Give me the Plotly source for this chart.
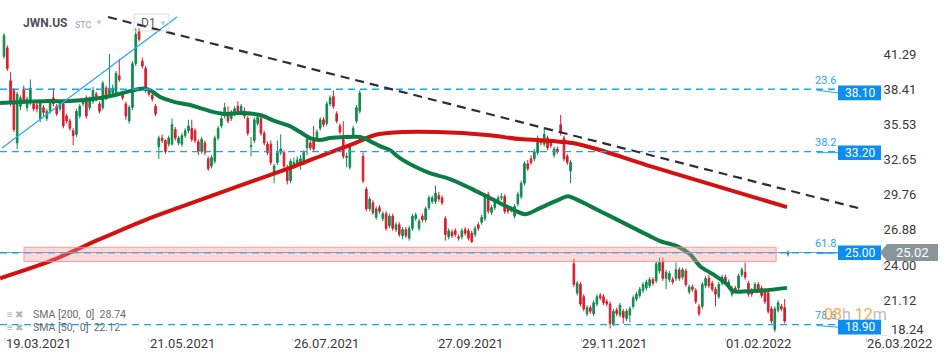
import plotly.graph_objects as go

# ---------------- data ----------------
open_ = [41.1,41.8,39.1,38.3,34.0,37.0,38.4,36.9,37.3,37.2, 37.1,36.0,36.9,36.0,36.6,37.7,37.0,36.8,37.2,36.2,
         35.8,35.0,34.7,36.2,37.2,37.7,36.9,37.4,38.0,37.2, 36.9,38.5,38.0,38.1,38.1,39.5,38.0,37.2,35.8,36.9,
         40.5,43.2,40.7,40.1,38.3,37.9,37.0,
         33.7,34.4,34.2,33.9,33.9,35.1,34.0,33.9,34.6,35.0,35.2,35.0,34.1,
         33.3,34.0,32.7,32.1,32.5,34.4,35.4,36.2,36.4,36.0, 36.4,37.0,36.5,36.6,36.0,33.7,34.2,35.6,36.0,34.8,
         33.9,33.9,31.4,32.4,33.2,33.2,32.0,30.9,32.1,32.3, 32.2,32.4,33.6,34.0,34.3,34.3,35.2,35.9,35.6,37.2,
         37.8,36.4,35.4,34.3,32.8,32.0,34.6,35.8,36.6,32.9, 30.2,28.6,29.1,27.9,28.7,27.8,28.2,27.2,28.0,
         26.9,27.3,26.4,26.9,26.2,27.0,27.8,27.0,28.0,27.7, 28.7,29.2,29.2,29.7,29.5,27.8,26.3,26.7,26.8,26.3,
         26.3,26.9,26.8,26.6,26.5,27.3,27.5,27.8,29.8,28.3, 28.7,29.2,29.5,29.6,28.7,28.6,28.0,29.0,29.6,30.7,
         32.3,32.7,32.7,33.2,34.2,33.9,34.4,34.1,33.0,33.5, 35.5,34.4,32.9,31.7,
         24.1,21.7,22.4,21.4,20.0,20.5,20.0,20.8,21.5,21.4, 21.0,20.8,19.2,20.3,19.9,20.2,19.6,19.9,20.6,21.2,
         21.5,21.9,22.1,22.3,22.8,22.7,23.5,24.2,22.9,22.8, 22.8,22.9,23.6,23.0,23.5,21.8,22.2,21.9,20.6,20.6,
         22.3,22.9,22.5,22.0,21.4,22.5,23.0,22.3,21.6,22.1, 22.1,23.2,23.4,22.5,21.9,21.9,22.4,22.1,21.9,21.7,
         20.4,18.7,20.3,20.6,20.5,24.9]
high_ = [43.0,42.0,39.8,38.5,38.2,37.9,38.7,37.8,39.2,37.5, 37.3,37.5,37.1,36.8,37.6,38.5,37.2,37.5,37.4,36.4,
         36.0,35.2,36.8,37.2,37.6,37.9,37.8,38.6,38.2,37.4, 39.1,38.7,41.3,38.8,39.9,40.9,38.2,37.4,37.1,40.7,
         43.4,43.4,41.0,40.3,38.5,38.1,37.2,
         34.6,34.7,34.3,34.6,36.0,35.3,34.6,34.8,35.2,35.9,35.9,35.2,34.3,
         34.5,34.2,32.9,33.0,34.6,35.4,36.2,37.3,37.0,36.7, 37.0,37.4,37.2,36.9,36.2,34.5,36.1,36.3,36.2,35.0,
         34.1,34.2,32.3,34.2,34.7,33.4,32.2,32.7,32.8,32.9, 33.0,33.4,34.5,34.2,35.4,35.1,36.1,36.1,37.4,37.9,
         38.3,36.6,35.6,35.8,33.2,33.9,35.4,37.1,38.3,33.2, 30.4,29.6,29.3,28.8,28.9,28.4,28.4,28.2,28.2,
         27.5,27.5,27.1,27.1,27.2,28.2,28.3,27.8,28.2,28.8, 29.7,29.7,30.5,30.0,29.7,28.0,27.0,26.9,27.0,26.5,
         27.0,27.1,27.0,26.8,27.2,27.5,28.1,29.9,30.0,28.9, 29.5,29.7,29.9,29.8,28.9,28.8,29.0,30.0,30.9,32.5,
         32.6,33.0,33.5,34.6,34.4,35.3,34.6,34.3,33.7,33.7, 36.3,34.6,33.1,32.6,
         24.5,22.7,22.6,21.6,20.7,20.7,21.1,21.6,21.7,21.6, 21.2,21.0,20.4,20.5,20.9,20.4,20.4,20.6,21.5,21.8,
         22.2,22.6,22.8,23.0,23.0,24.3,24.6,24.6,23.6,23.5, 23.0,24.2,23.8,23.8,23.7,22.4,22.4,22.1,20.8,22.6,
         23.1,23.2,22.7,22.2,22.6,23.2,23.2,22.8,22.3,22.3, 23.3,23.8,24.2,22.7,22.1,22.6,22.6,22.3,22.1,21.9,
         20.6,20.6,21.1,20.8,21.2,25.2]
low_ = [40.9,39.9,37.0,34.9,33.5,36.7,37.2,36.6,37.1,36.6, 36.5,35.7,36.2,35.8,36.4,37.0,36.2,36.6,35.2,35.6,
        35.0,33.8,34.5,36.0,37.0,36.0,36.7,37.2,37.4,36.4, 36.7,37.5,37.8,37.9,37.9,39.0,37.5,35.9,35.6,36.7,
        40.3,42.3,40.1,38.1,37.8,37.4,36.2,
        32.7,34.0,33.1,33.7,33.8,34.2,33.8,33.7,34.4,34.8,34.1,34.0,33.0,
        33.1,33.0,31.7,31.9,32.3,34.2,35.2,36.0,35.6,35.8, 36.2,36.4,36.3,36.0,34.6,32.9,34.0,35.4,34.6,33.8,
        33.0,32.2,30.7,32.2,33.0,31.9,30.6,30.7,31.9,32.0, 31.8,32.2,33.0,33.4,33.3,34.1,35.0,35.3,35.4,37.0,
        36.8,35.6,34.7,32.7,32.0,31.8,34.4,35.6,36.4,30.7, 28.4,28.4,28.1,27.7,28.2,27.6,26.8,27.0,26.8,
        26.7,26.3,26.1,26.2,26.0,26.8,27.6,26.8,27.5,27.5, 28.5,29.0,29.0,29.2,28.9,26.0,26.1,26.2,26.3,26.0,
        26.1,26.4,26.0,25.8,26.3,26.8,27.3,27.6,28.2,28.1, 28.5,29.0,29.3,28.2,28.2,28.3,27.8,28.8,29.4,30.5,
        31.7,32.2,32.5,33.0,33.8,33.7,33.4,33.6,32.8,33.1, 34.6,32.5,32.2,30.7,
        22.2,21.5,20.6,20.2,19.8,20.0,19.8,20.6,21.1,20.7, 20.6,18.8,19.0,19.8,19.7,19.2,19.4,19.3,20.4,21.0,
        21.3,21.7,21.9,22.1,22.3,22.5,23.3,22.7,22.0,22.6, 22.4,22.7,22.7,22.8,22.2,21.6,21.8,20.8,19.8,20.4,
        22.1,22.1,21.8,20.6,21.2,22.3,22.4,22.1,21.4,21.7, 21.9,23.0,22.8,21.4,21.4,21.7,21.7,21.3,20.8,20.0,
        19.2,18.5,20.1,20.2,19.2,24.7]
close_ = [42.8,40.1,37.3,35.1,38.0,37.7,37.4,37.6,38.5,36.8, 36.8,37.3,36.5,36.6,37.4,37.2,36.4,37.3,35.4,35.8,
          35.2,34.6,36.6,37.0,37.4,36.2,37.6,38.3,37.6,36.6, 38.9,37.7,38.5,38.5,39.7,39.2,37.7,36.2,36.9,40.5,
          42.9,42.5,40.3,38.3,38.0,37.6,36.4,
          34.4,34.2,33.3,34.4,35.5,34.4,34.4,34.6,35.0,35.4,34.3,34.2,33.3,
          34.3,33.2,31.9,32.8,34.4,35.2,36.0,36.9,35.8,36.5, 36.8,36.6,37.0,36.2,34.8,33.8,35.9,36.1,34.8,34.0,
          33.2,32.4,32.1,33.2,33.5,32.1,30.9,32.5,32.4,32.6, 32.7,33.2,34.3,33.6,33.5,34.9,35.9,35.5,37.2,37.7,
          37.0,35.8,34.9,32.9,32.9,33.7,35.2,36.9,38.1,30.9, 28.6,29.4,28.3,28.6,28.4,28.2,27.0,28.0,27.0,
          27.3,26.5,26.9,26.4,27.0,28.0,28.1,27.6,27.7,28.6, 29.5,29.5,29.9,29.4,29.1,26.5,26.8,26.4,26.5,26.2,
          26.8,26.6,26.2,25.9,27.0,27.0,27.9,29.7,28.4,28.7, 29.3,29.5,29.6,28.4,28.4,28.5,28.8,29.8,30.7,32.3,
          31.9,32.4,33.3,34.4,34.0,34.7,33.6,33.8,33.5,33.3, 34.8,32.7,32.4,32.4,
          22.4,22.5,20.8,20.4,20.5,20.2,20.9,21.4,21.3,20.9, 20.8,19.2,20.2,20.0,20.7,19.7,20.2,20.4,21.3,21.6,
          22.0,22.4,22.6,22.8,22.5,24.1,24.2,22.9,23.4,23.3, 22.6,23.6,22.9,23.6,22.4,22.2,22.0,21.0,20.0,22.4,
          22.9,22.3,22.0,21.6,22.4,23.0,22.6,22.6,22.1,21.9, 23.1,23.6,23.0,21.6,21.6,22.4,21.9,21.5,21.0,20.2,
          19.4,20.4,20.9,20.4,19.4,25.02]

# moving averages (bar index, value)
sma50_bar = [-1.2,14.0,20.0,29.1,33.7,38.3,42.2,44.3,47.4,51.9,56.5,59.5,62.5,67.1,71.6,77.7,82.3,86.8,89.9,92.9,
             95.9,99.0,103.5,108.1,111.1,114.1,117.2,120.2,126.3,129.3,135.4,141.5,147.5,153.6,158.2,162.7,168.8,
             171.2,174.9,177.9,184.0,190.0,196.1,199.2,204.3,208.3,211.3,215.2,219.5,221.3,225.6,231.6,237.7]
sma50_val = [37.27,37.43,37.43,37.68,37.93,38.25,38.46,38.34,37.76,37.35,37.11,36.86,36.61,36.37,36.45,36.29,35.79,
             35.38,34.89,34.40,34.24,34.40,34.48,34.48,34.15,33.74,33.41,32.76,31.86,31.53,31.04,30.30,29.48,28.66,
             28.16,28.66,29.40,29.64,29.23,28.82,28.00,27.18,26.36,25.95,25.54,24.88,23.90,23.24,22.42,21.85,21.85,
             21.93,22.12]
sma200_bar = [-1.2,14.0,29.1,44.3,54.3,69.5,79.8,88.3,98.4,106.6,112.6,121.1,131.5,146.6,156.6,166.7,172.7,180.9,
              196.1,211.3,226.5,237.7]
sma200_val = [22.91,24.31,26.11,27.84,28.82,30.30,31.28,32.10,33.17,33.99,34.65,34.89,34.89,34.65,34.32,34.15,33.99,
              33.42,32.10,30.87,29.64,28.74]

tick_labels = ["19.03.2021", "21.05.2021", "26.07.2021", "27.09.2021", "29.11.2021", "01.02.2022", "26.03.2022"]
tick_bars = [0.3, 43.9, 87.7, 131.5, 175.2, 218.9, 261.7]
y_ticks = [18.24, 21.12, 24.00, 26.88, 29.76, 32.65, 35.53, 38.41, 41.29]

fib_ratios = ["23.6", "38.2", "61.8", "78.6"]
fib_prices = [38.40, 33.28, 25.00, 19.11]
tag_prices = [38.10, 33.20, 25.00, 18.90]
last_price = 25.02
sma_legend = ["SMA [200,  0]  28.74", "SMA [50,  0]  22.12"]

# drawn objects (bar index, price)
up_trend = [(-0.6, 33.59), (52.5, 44.32)]
down_trend = [(31.6, 44.32), (260.5, 28.58)]
zone = dict(b0=6.07, b1=234.4, p0=24.28, p1=25.45)

# ---------------- figure ----------------
GREEN = "#12894f"
RED = "#d81e2c"
PW, PH = 880.0, 337.0  # plot area in px
BAR_PX, BAR0_PX = 3.294, 4.0


def px(x):
    return x / PW


def py(y):
    return 1 - y / PH


n = min(len(open_), len(high_), len(low_), len(close_))
bars = list(range(n))

fig = go.Figure()
fig.add_trace(go.Candlestick(
    x=bars, open=open_[:n], high=high_[:n], low=low_[:n], close=close_[:n],
    increasing=dict(line=dict(color=GREEN, width=1), fillcolor=GREEN),
    decreasing=dict(line=dict(color=RED, width=1), fillcolor=RED),
    whiskerwidth=0, hoverinfo="skip", showlegend=False))
fig.add_trace(go.Scatter(x=sma200_bar, y=sma200_val, mode="lines",
                         line=dict(color="#d41010", width=4, shape="spline", smoothing=0.8),
                         hoverinfo="skip", showlegend=False))
fig.add_trace(go.Scatter(x=sma50_bar, y=sma50_val, mode="lines",
                         line=dict(color="#0c7c47", width=4, shape="spline", smoothing=0.8),
                         hoverinfo="skip", showlegend=False))

shapes = []
# last price line
shapes.append(dict(type="line", xref="paper", yref="y", x0=0, x1=1, y0=last_price, y1=last_price,
                   line=dict(color="#8e979c", width=1), layer="above"))
# fibonacci levels
for fp, tp in zip(fib_prices, tag_prices):
    shapes.append(dict(type="line", xref="paper", yref="y", x0=0, x1=px(836), y0=fp, y1=fp,
                       line=dict(color="#1da3ec", width=1.3, dash="7px,5px"), layer="above"))
    shapes.append(dict(type="line", xref="paper", yref="y", x0=px(817), x1=px(838), y0=fp - 0.08, y1=tp,
                       line=dict(color="#1da3ec", width=1), layer="above"))
    shapes.append(dict(type="rect", xref="paper", yref="y", x0=px(838), x1=px(881), y0=tp - 0.6, y1=tp + 0.6,
                       fillcolor="#0b8df2", line=dict(width=0), layer="above"))
# zone
shapes.append(dict(type="rect", xref="x", yref="y", x0=zone["b0"], x1=zone["b1"], y0=zone["p0"], y1=zone["p1"],
                   fillcolor="rgba(245,150,150,0.35)", line=dict(color="rgba(236,140,140,0.8)", width=1),
                   layer="above"))
# trend lines
shapes.append(dict(type="line", xref="x", yref="y", x0=up_trend[0][0], y0=up_trend[0][1],
                   x1=up_trend[1][0], y1=up_trend[1][1], line=dict(color="#2aa8f2", width=1.3), layer="above"))
shapes.append(dict(type="line", xref="x", yref="y", x0=down_trend[0][0], y0=down_trend[0][1],
                   x1=down_trend[1][0], y1=down_trend[1][1],
                   line=dict(color="#2b3034", width=2.2, dash="9px,6px"), layer="above"))
# current price tag (grey arrow)
h = 0.7
shapes.append(dict(type="path", xref="paper", yref="y",
                   path=f"M {px(880)},{last_price} L {px(887)},{last_price + h} L {px(938)},{last_price + h} "
                        f"L {px(938)},{last_price - h} L {px(887)},{last_price - h} Z",
                   fillcolor="#8a959a", line=dict(width=0), layer="above"))
# D1 box
shapes.append(dict(type="rect", xref="paper", yref="paper", x0=px(134), x1=px(169), y0=py(31), y1=py(14),
                   line=dict(color="#d9dde0", width=1), fillcolor="rgba(255,255,255,0)", layer="above"))

ann = []
for r, fp, tp in zip(fib_ratios, fib_prices, tag_prices):
    ann.append(dict(x=px(825), y=fp, xref="paper", yref="y", text=r, showarrow=False, yshift=9,
                    font=dict(size=11, color="#2aa5ea"), xanchor="center", yanchor="middle"))
    ann.append(dict(x=px(859.5), y=tp, xref="paper", yref="y", text=f"{tp:.2f}", showarrow=False,
                    font=dict(size=12, color="white"), xanchor="center", yanchor="middle"))
ann.append(dict(x=px(912), y=last_price, xref="paper", yref="y", text=f"{last_price:.2f}", showarrow=False,
                font=dict(size=13, color="white"), xanchor="center", yanchor="middle"))
ann.append(dict(x=px(21), y=py(23), xref="paper", yref="paper", text="<b>JWN.US</b>", showarrow=False,
                font=dict(size=12, color="#4c5358"), xanchor="left", yanchor="middle"))
ann.append(dict(x=px(73), y=py(24.5), xref="paper", yref="paper", text="STC", showarrow=False,
                font=dict(size=9, color="#9aa3a8"), xanchor="left", yanchor="middle"))
ann.append(dict(x=px(93), y=py(22), xref="paper", yref="paper", text="▼", showarrow=False,
                font=dict(size=8, color="#c3c8cb"), xanchor="left", yanchor="middle"))
ann.append(dict(x=px(139), y=py(23), xref="paper", yref="paper", text="D1", showarrow=False,
                font=dict(size=12, color="#555b60"), xanchor="left", yanchor="middle"))
ann.append(dict(x=px(157), y=py(23.5), xref="paper", yref="paper", text="▼", showarrow=False,
                font=dict(size=8, color="#c3c8cb"), xanchor="left", yanchor="middle"))
for txt, yy in zip(sma_legend, [314, 327]):
    ann.append(dict(x=px(5), y=py(yy), xref="paper", yref="paper", text="≡ ✖", showarrow=False,
                    font=dict(size=10, color="#b0b5b8"), xanchor="left", yanchor="middle"))
    ann.append(dict(x=px(31), y=py(yy), xref="paper", yref="paper", text=txt, showarrow=False,
                    font=dict(size=10.5, color="#666c70"), xanchor="left", yanchor="middle"))
ann.append(dict(x=px(822), y=py(314), xref="paper", yref="paper",
                text='<span style="color:#f5a43a">08</span><span style="color:#b4b8bb">h</span> '
                     '<span style="color:#f5a43a">12</span><span style="color:#b4b8bb">m</span>',
                showarrow=False, font=dict(size=16), xanchor="left", yanchor="middle", opacity=0.9))
# x-axis date labels, left-aligned at their tick like the reference
for tb, tl in zip(tick_bars, tick_labels):
    ann.append(dict(x=tb, y=py(343), xref="x", yref="paper", text=tl, showarrow=False,
                    font=dict(size=13, color="#3a3a3a"), xanchor="left", yanchor="middle", xshift=-1))
# the lowest price label sits a little above its tick (kept clear of the date row), as in the reference
ann.append(dict(x=px(889), y=py(329), xref="paper", yref="paper", text=f"{y_ticks[0]:.2f}", showarrow=False,
                font=dict(size=13, color="#3a3a3a"), xanchor="left", yanchor="middle"))

y_top = 41.29 + 54 / 12.2
y_bot = 41.29 - (PH - 54) / 12.2
x_lo = -BAR0_PX / BAR_PX
x_hi = (PW - BAR0_PX) / BAR_PX

fig.update_layout(
    width=950, height=360, margin=dict(l=0, r=950 - int(PW), t=0, b=360 - int(PH), autoexpand=False),
    paper_bgcolor="white", plot_bgcolor="white",
    font=dict(family="Roboto, sans-serif", color="#333"),
    shapes=shapes, annotations=ann, showlegend=False,
    xaxis=dict(range=[x_lo, x_hi], showgrid=False, zeroline=False, showline=False, automargin=False,
               tickvals=tick_bars, ticks="outside", ticklen=4, tickcolor="#d5d5d5",
               showticklabels=False, rangeslider=dict(visible=False), fixedrange=True),
    yaxis=dict(range=[y_bot, y_top], side="right", showgrid=False, zeroline=False, showline=False,
               automargin=False,
               tickvals=y_ticks, ticktext=[""] + [f"{v:.2f}" for v in y_ticks[1:]], ticks="outside", ticklen=6,
               tickcolor="#e2e2e2", tickfont=dict(size=13, color="#3a3a3a"), ticklabelstandoff=-6,
               fixedrange=True),
)

# remove the browser's default page margin so the 950x360 figure fills the window exactly
fig.write_html("out.html", config={"displayModeBar": False},
               post_script="document.body.style.margin='0';document.body.style.overflow='hidden';")
